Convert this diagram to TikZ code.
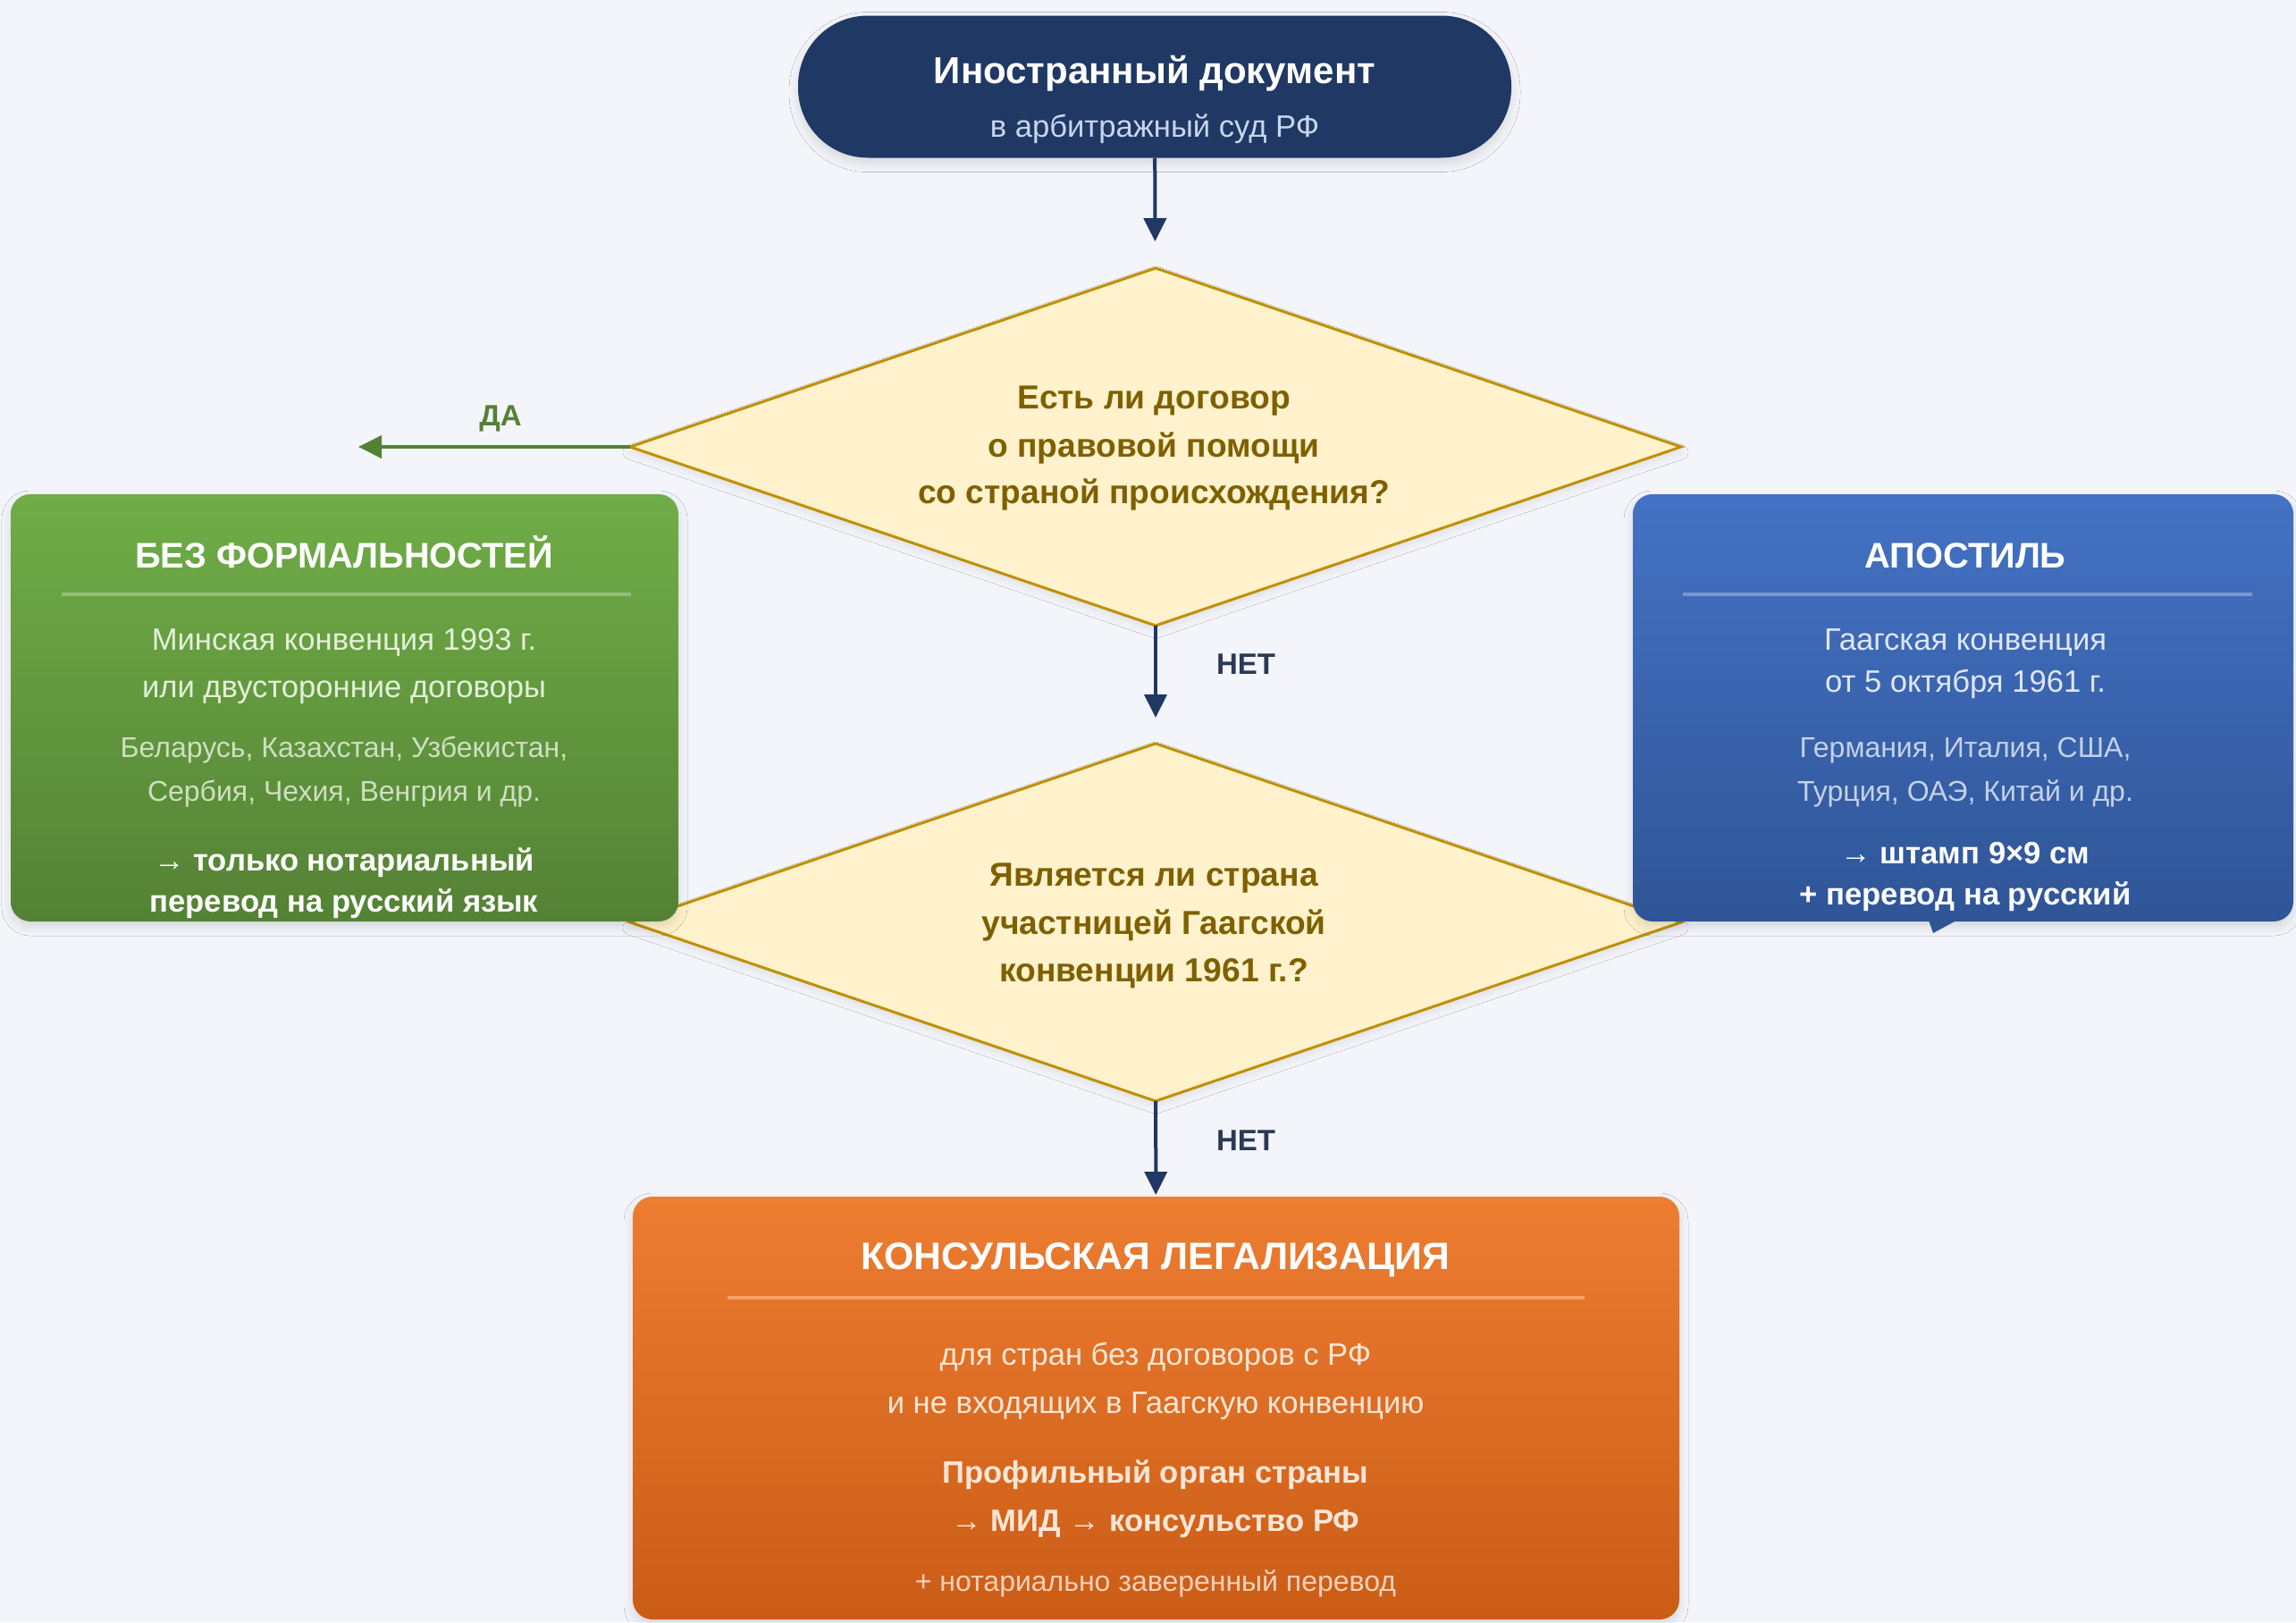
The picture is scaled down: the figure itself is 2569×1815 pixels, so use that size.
\documentclass[tikz,border=0pt]{standalone}
\usepackage{fontspec}
\setmainfont{Liberation Sans}
\usetikzlibrary{shapes.geometric}
\usetikzlibrary{shadows.blur}
\usetikzlibrary{arrows.meta}

\definecolor{bgcol}{RGB}{244,245,250}
\definecolor{navy}{RGB}{31,56,100}
\definecolor{subcol}{RGB}{200,214,236}
\definecolor{cream}{RGB}{255,242,204}
\definecolor{gold}{RGB}{191,144,0}
\definecolor{askcol}{RGB}{127,96,0}
\definecolor{greentop}{RGB}{112,173,71}
\definecolor{greenbot}{RGB}{84,130,53}
\definecolor{bluetop}{RGB}{68,114,196}
\definecolor{bluebot}{RGB}{47,85,151}
\definecolor{orangetop}{RGB}{237,125,49}
\definecolor{orangebot}{RGB}{203,92,22}
\definecolor{greentxt}{RGB}{228,240,218}
\definecolor{bluetxt}{RGB}{222,231,246}
\definecolor{orangetxt}{RGB}{253,230,214}
\definecolor{nocol}{RGB}{42,58,86}

\begin{document}
\begin{tikzpicture}[x=0.5pt,y=0.5pt,yscale=-1,xscale=1,
  txt/.style={anchor=base,inner sep=0pt},
  hdr/.style={txt,font=\fontsize{19.9}{23}\selectfont\bfseries,text=white},
  body/.style={txt,font=\fontsize{17.3}{20}\selectfont},
  note/.style={txt,font=\fontsize{16}{19}\selectfont},
  emph/.style={txt,font=\fontsize{17.3}{20}\selectfont\bfseries},
  ask/.style={txt,font=\fontsize{18.6}{22}\selectfont\bfseries,text=askcol},
  card/.style={rectangle,rounded corners=11pt,inner sep=0pt,outer sep=0pt,
    blur shadow={shadow xshift=0pt,shadow yshift=-3pt,shadow blur radius=5pt,shadow opacity=12}},
  choice/.style={diamond,draw=gold,line width=1.5pt,fill=cream,minimum width=588pt,
    minimum height=200pt,inner sep=0pt,outer sep=0pt,
    blur shadow={shadow xshift=0pt,shadow yshift=-3pt,shadow blur radius=4pt,shadow opacity=8}},
  flow/.style={draw=navy,line width=2pt,-{Triangle[length=13pt,width=12.5pt]}},
  rule/.style={line width=2pt}
]
\useasboundingbox[fill=bgcol] (0,0) rectangle (2569,1815);

%Shape: Pill
\node[card,rounded corners=39pt,fill=navy,minimum width=399pt,minimum height=79.5pt] (doc) at (1292,97) {};
% Text Node
\node[txt,font=\fontsize{21}{25}\selectfont\bfseries,text=white] (doctitle) at (1292,93) {Иностранный документ};
% Text Node
\node[txt,font=\fontsize{17.3}{20}\selectfont,text=subcol] (docsub) at (1292,153) {в арбитражный суд РФ};

%Shape: Diamond
\node[choice] (treaty) at (1293,500) {};
%Shape: Diamond
\node[choice] (hague) at (1293,1032) {};

%Shape: Rectangle
\node[card,top color=greentop,bottom color=greenbot,minimum width=373.5pt,minimum height=239pt] (plain) at (385.5,792) {};
%Shape: Rectangle
\node[card,top color=bluetop,bottom color=bluebot,minimum width=369.5pt,minimum height=239pt] (apost) at (2196.5,792) {};
%Shape: Triangle
\fill[bluebot] (2158,1030) -- (2163,1044) -- (2189,1030) -- cycle;
%Shape: Rectangle
\node[card,top color=orangetop,bottom color=orangebot,minimum width=585.5pt,minimum height=236.5pt] (legal) at (1293.5,1575.5) {};

%Straight Lines
\draw[rule,draw=white,draw opacity=0.3] (69,665) -- (706,665);
%Straight Lines
\draw[rule,draw=white,draw opacity=0.3] (1883,665) -- (2520,665);
%Straight Lines
\draw[rule,draw={rgb,255:red,245;green,163;blue,105}] (814,1452) -- (1773,1452);

%Straight Lines
\draw[flow,shorten >=15pt] (doc) -- (treaty);
%Straight Lines
\draw[flow,shorten >=14.5pt] (treaty) -- (hague);
%Straight Lines
\draw[flow,shorten >=1pt] (hague) -- (legal);
%Straight Lines
\coordinate (yesend) at (401,500);
\draw[flow,draw=greenbot,line width=2pt] (treaty.west) -- (yesend);

% Text Node
\node[txt,font=\fontsize{16.5}{20}\selectfont\bfseries,text=greenbot] (yes) at (560,476) {ДА};
% Text Node
\node[txt,font=\fontsize{16.5}{20}\selectfont\bfseries,text=nocol] (no1) at (1394,754) {НЕТ};
% Text Node
\node[txt,font=\fontsize{16.5}{20}\selectfont\bfseries,text=nocol] (no2) at (1394,1287) {НЕТ};

% Text Node
\node[ask] (treaty1) at (1291,457) {Есть ли договор};
% Text Node
\node[ask] (treaty2) at (1291,511) {о правовой помощи};
% Text Node
\node[ask] (treaty3) at (1291,563) {со страной происхождения?};
% Text Node
\node[ask] (hague1) at (1291,991) {Является ли страна};
% Text Node
\node[ask] (hague2) at (1291,1045) {участницей Гаагской};
% Text Node
\node[ask] (hague3) at (1291,1098) {конвенции 1961 г.?};

% Text Node
\node[hdr] (plain0) at (385,635) {БЕЗ ФОРМАЛЬНОСТЕЙ};
% Text Node
\node[body,text=greentxt] (plain1) at (385,727) {Минская конвенция 1993 г.};
% Text Node
\node[body,text=greentxt] (plain2) at (385,780) {или двусторонние договоры};
% Text Node
\node[note,text=greentxt!85!greenbot] (plain3) at (385,847) {Беларусь, Казахстан, Узбекистан,};
% Text Node
\node[note,text=greentxt!85!greenbot] (plain4) at (385,896) {Сербия, Чехия, Венгрия и др.};
% Text Node
\node[emph,text=white] (plain5) at (385,974) {→ только нотариальный};
% Text Node
\node[emph,text=white] (plain6) at (385,1020) {перевод на русский язык};

% Text Node
\node[hdr] (apost0) at (2199,635) {АПОСТИЛЬ};
% Text Node
\node[body,text=bluetxt] (apost1) at (2199,727) {Гаагская конвенция};
% Text Node
\node[body,text=bluetxt] (apost2) at (2199,774) {от 5 октября 1961 г.};
% Text Node
\node[note,text=bluetxt!85!bluebot] (apost3) at (2199,847) {Германия, Италия, США,};
% Text Node
\node[note,text=bluetxt!85!bluebot] (apost4) at (2199,896) {Турция, ОАЭ, Китай и др.};
% Text Node
\node[emph,text=white] (apost5) at (2199,966) {→ штамп 9×9 см};
% Text Node
\node[emph,text=white] (apost6) at (2199,1012) {+ перевод на русский};

% Text Node
\node[hdr,font=\fontsize{21.4}{25}\selectfont\bfseries] (legal0) at (1293,1420) {КОНСУЛЬСКАЯ ЛЕГАЛИЗАЦИЯ};
% Text Node
\node[body,text=orangetxt] (legal1) at (1293,1527) {для стран без договоров с РФ};
% Text Node
\node[body,text=orangetxt] (legal2) at (1293,1581) {и не входящих в Гаагскую конвенцию};
% Text Node
\node[emph,text=orangetxt] (legal3) at (1293,1659) {Профильный орган страны};
% Text Node
\node[emph,text=orangetxt] (legal4) at (1293,1713) {→ МИД → консульство РФ};
% Text Node
\node[note,text=orangetxt!85!orangebot] (legal5) at (1293,1780) {+ нотариально заверенный перевод};

\end{tikzpicture}
\end{document}
